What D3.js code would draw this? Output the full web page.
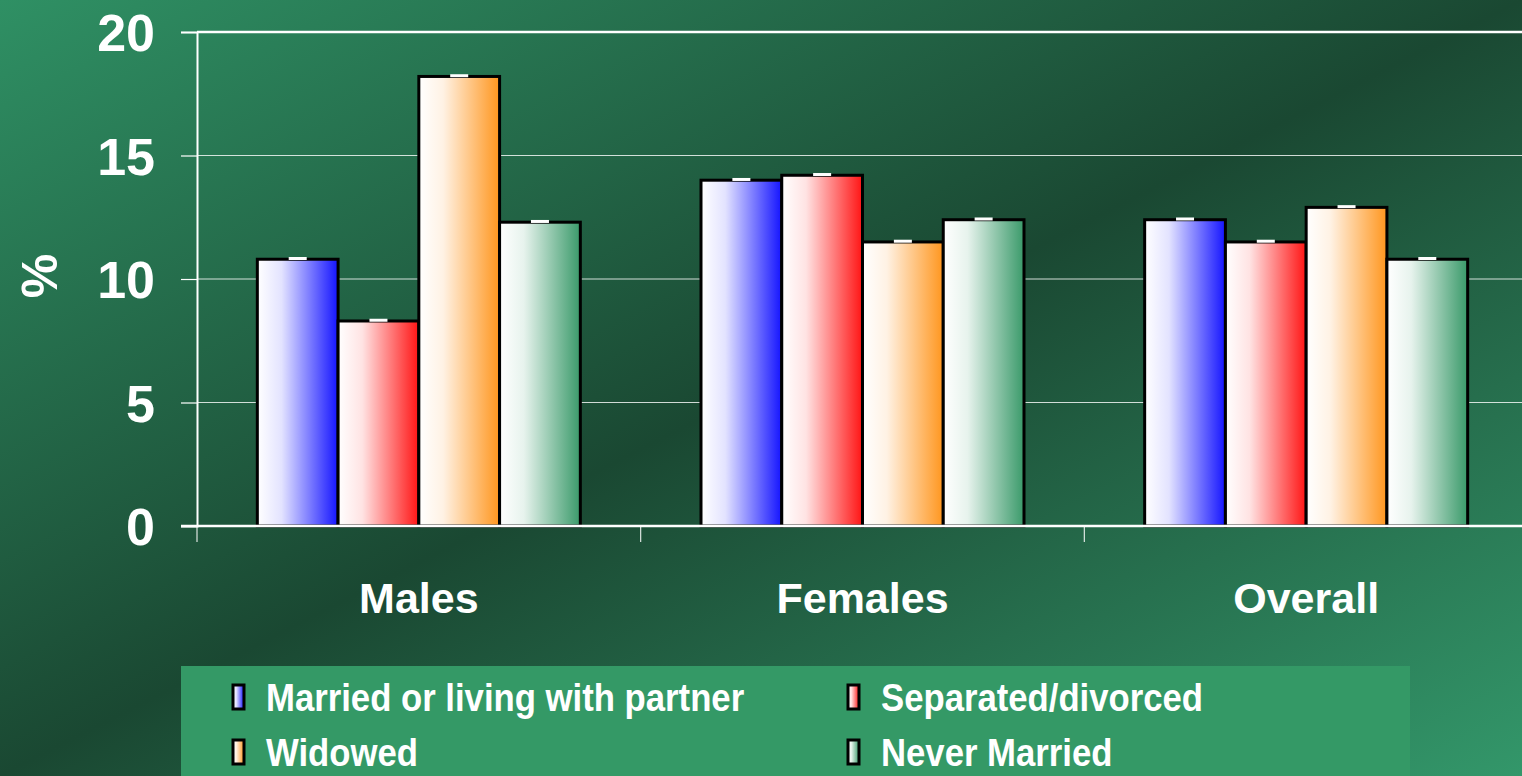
<!DOCTYPE html>
<html>
  <head>
    <meta charset="utf-8" />
    <script src="https://d3js.org/d3.v7.min.js"></script>
    <style>
      html, body { margin: 0; padding: 0; overflow: hidden; }
      svg { display: block; }
    </style>
  </head>
  <body>
    <svg id="chart" width="1522" height="776"></svg>
    <script>
      // data
      const groups = ["Males", "Females", "Overall"];
      const series = ["Married or living with partner", "Separated/divorced", "Widowed", "Never Married"];
      const married = [10.8, 14.0, 12.4];
      const separated = [8.3, 14.2, 11.5];
      const widowed = [18.2, 11.5, 12.9];
      const never = [12.3, 12.4, 10.8];
      const errs = [0.05, 0.05, 0.05];
      const yTicks = [0, 5, 10, 15, 20];
      const endColors = ["#1414ff", "#ff1414", "#ff961e", "#3a9a6a"];

      const values = [married, separated, widowed, never];

      const svg = d3.select("#chart");
      const width = +svg.attr("width");
      const height = +svg.attr("height");
      const margin = { top: 32, right: -6, bottom: 250, left: 197 };
      const plotW = width - margin.left - margin.right;
      const plotH = height - margin.top - margin.bottom;

      const defs = svg.append("defs");
      // diagonal background
      const bg = defs.append("linearGradient").attr("id", "bg")
        .attr("x1", 0).attr("y1", 0).attr("x2", 1).attr("y2", 1);
      bg.append("stop").attr("offset", "0%").attr("stop-color", "#2f9064");
      bg.append("stop").attr("offset", "50%").attr("stop-color", "#1a4832");
      bg.append("stop").attr("offset", "100%").attr("stop-color", "#33976a");

      endColors.forEach((c, i) => {
        const g = defs.append("linearGradient").attr("id", "bar" + i)
          .attr("x1", 0).attr("y1", 0).attr("x2", 1).attr("y2", 0);
        g.append("stop").attr("offset", "0%").attr("stop-color", "#ffffff");
        g.append("stop").attr("offset", "30%").attr("stop-color", d3.interpolateRgb("#ffffff", c)(0.12));
        g.append("stop").attr("offset", "100%").attr("stop-color", c);
      });

      svg.append("rect").attr("width", width).attr("height", height).attr("fill", "url(#bg)");

      const chart = svg.append("g")
        .attr("transform", "translate(" + margin.left + "," + margin.top + ")");

      const x0 = d3.scaleBand().domain(groups).range([0, plotW]).paddingInner(0).paddingOuter(0);
      const x1 = d3.scaleBand().domain(series).range([0, 323])
        .paddingInner(0).paddingOuter(0);
      const y = d3.scaleLinear().domain([0, 20]).range([plotH, 0]);

      // gridlines
      chart.selectAll("line.grid")
        .data(yTicks.filter((t) => t > 0))
        .join("line")
        .attr("class", "grid")
        .attr("x1", 0).attr("x2", plotW + 10)
        .attr("y1", (d) => y(d)).attr("y2", (d) => y(d))
        .attr("stroke", "#ffffff")
        .attr("stroke-width", (d) => (d == 20 ? 2.5 : 1.2))
        .attr("opacity", (d) => (d == 20 ? 1 : 0.8));

      // y axis
      const yAxis = chart.append("g")
        .call(d3.axisLeft(y).tickValues(yTicks).tickSize(16).tickPadding(26));
      yAxis.select(".domain").attr("stroke", "#ffffff").attr("stroke-width", 2);
      yAxis.selectAll(".tick line").attr("stroke", "#ffffff").attr("stroke-width", 1.2);
      yAxis.selectAll("text")
        .attr("fill", "#ffffff")
        .style("font-family", "'Liberation Sans', Arial, sans-serif")
        .style("font-weight", "bold")
        .style("font-size", "52px")
        .attr("dy", "0.36em");

      // bars
      const groupOffset = (x0.bandwidth() - 323) / 2;
      const grp = chart.selectAll("g.group")
        .data(groups)
        .join("g")
        .attr("class", "group")
        .attr("transform", (d) => "translate(" + (x0(d) + groupOffset) + ",0)");

      grp.selectAll("rect.bar")
        .data((g, gi) => series.map((s, si) => ({ s: s, si: si, v: values[si][gi], e: errs[gi] })))
        .join("rect")
        .attr("class", "bar")
        .attr("x", (d) => x1(d.s))
        .attr("y", (d) => y(d.v))
        .attr("width", x1.bandwidth())
        .attr("height", (d) => plotH - y(d.v))
        .attr("fill", (d) => "url(#bar" + d.si + ")")
        .attr("stroke", "#000000")
        .attr("stroke-width", 3);

      // tiny error caps
      grp.selectAll("rect.err")
        .data((g, gi) => series.map((s, si) => ({ s: s, v: values[si][gi], e: errs[gi] })))
        .join("rect")
        .attr("class", "err")
        .attr("x", (d) => x1(d.s) + x1.bandwidth() / 2 - 9)
        .attr("y", (d) => y(d.v + d.e) - 1)
        .attr("width", 18)
        .attr("height", 3)
        .attr("fill", "#ffffff");

      // x axis
      const xAxis = chart.append("g")
        .attr("transform", "translate(0," + plotH + ")")
        .call(d3.axisBottom(x0).tickSize(0).tickPadding(56));
      xAxis.select(".domain").remove();
      chart.append("line")
        .attr("x1", -16).attr("x2", plotW + 10)
        .attr("y1", plotH).attr("y2", plotH)
        .attr("stroke", "#ffffff").attr("stroke-width", 2.5);
      chart.selectAll("line.xtick")
        .data(groups)
        .join("line")
        .attr("class", "xtick")
        .attr("x1", (d) => x0(d)).attr("x2", (d) => x0(d))
        .attr("y1", plotH).attr("y2", plotH + 16)
        .attr("stroke", "#ffffff").attr("stroke-width", 1.2).attr("opacity", 0.85);
      xAxis.selectAll("text")
        .attr("fill", "#ffffff")
        .style("font-family", "'Liberation Sans', Arial, sans-serif")
        .style("font-weight", "bold")
        .style("font-size", "43px")
        .attr("dy", "0.71em");

      // y label
      svg.append("text")
        .attr("transform", "translate(57,276) rotate(-90)")
        .attr("text-anchor", "middle")
        .attr("fill", "#ffffff")
        .style("font-family", "'Liberation Sans', Arial, sans-serif")
        .style("font-weight", "bold")
        .style("font-size", "50px")
        .text("%");

      // legend
      const legend = svg.append("g");
      legend.append("rect")
        .attr("x", 181).attr("y", 666)
        .attr("width", 1229).attr("height", 120)
        .attr("fill", "#349966");
      const legPos = [[233, 697], [848, 697], [233, 752], [848, 752]];
      const item = legend.selectAll("g.item")
        .data(series)
        .join("g")
        .attr("class", "item")
        .attr("transform", (d, i) => "translate(" + legPos[i][0] + "," + legPos[i][1] + ")");
      item.append("rect")
        .attr("x", 0).attr("y", -12)
        .attr("width", 11).attr("height", 24)
        .attr("fill", (d, i) => "url(#bar" + i + ")")
        .attr("stroke", "#000000").attr("stroke-width", 3);
      item.append("text")
        .attr("transform", "translate(33,0) scale(0.89,1)")
        .attr("dy", "0.36em")
        .attr("fill", "#ffffff")
        .style("font-family", "'Liberation Sans Narrow', 'Liberation Sans', Arial, sans-serif")
        .style("font-weight", "bold")
        .style("font-size", "39px")
        .text((d) => d);
    </script>
  </body>
</html>
